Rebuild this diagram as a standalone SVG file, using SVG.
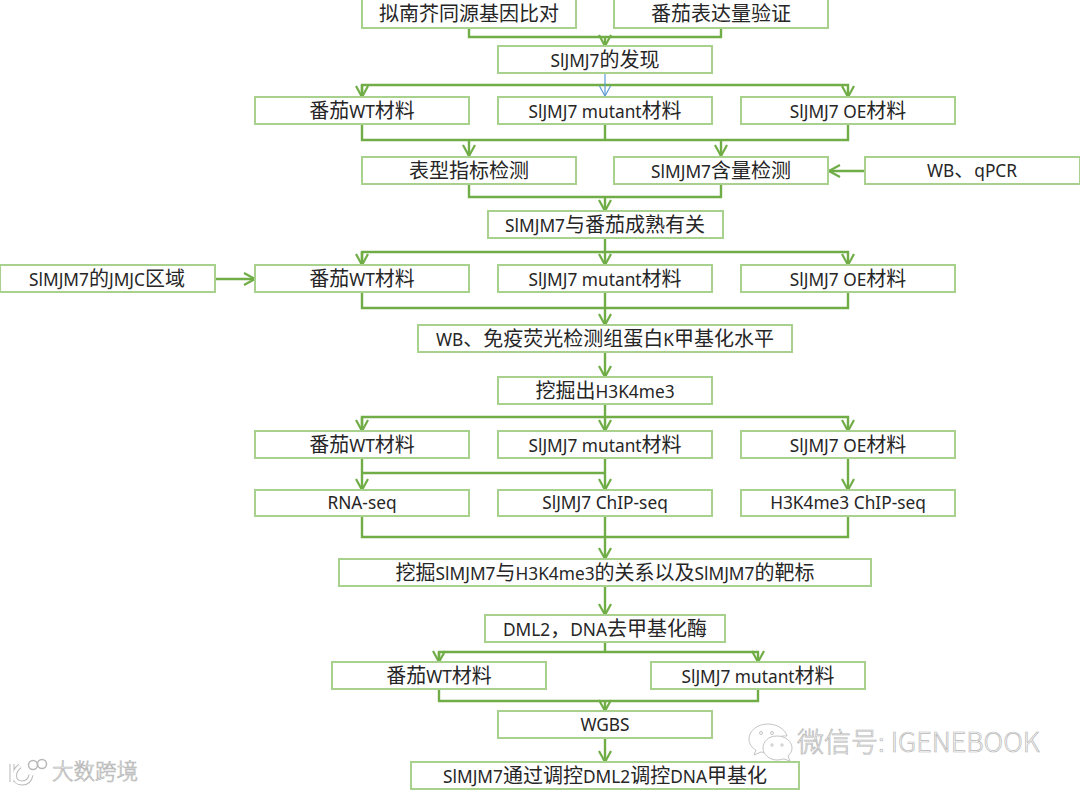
<svg xmlns="http://www.w3.org/2000/svg" width="1080" height="791" viewBox="0 0 1080 791">
<style>
.b{fill:#fff;stroke:#a9d18e;stroke-width:2}
.c{fill:none;stroke:#70ad47;stroke-width:2.4}
.t{font-family:"Noto Sans","Noto Sans CJK SC",sans-serif;font-size:17.300px;fill:#262626;text-anchor:middle}
.z{font-family:"Noto Sans CJK SC",sans-serif;font-size:20px}
.w{font-family:"Noto Sans CJK SC",sans-serif;font-weight:300;fill:#fff;stroke:#b5b5b5;stroke-width:.7}
.l{fill:#fff;stroke:#c4c4c4;stroke-width:1}
</style>
<defs>
<marker id="a" markerUnits="userSpaceOnUse" markerWidth="14" markerHeight="14" refX="12" refY="7" orient="auto"><path d="M1 1L12 7L1 13" fill="none" stroke="#70ad47" stroke-width="2.200"/></marker>
<marker id="e" markerUnits="userSpaceOnUse" markerWidth="14" markerHeight="14" refX="12" refY="7" orient="auto"><path d="M2 1.500L12 7L2 12.500" fill="none" stroke="#5b9bd5" stroke-width="1.200"/></marker>
</defs>
<rect width="1080" height="791" fill="#fff"/>
<g id="connectors">
<path class="c" d="M469 28V37H721V28M605 37V46" marker-end="url(#a)"/>
<path class="c" d="M362 97V85H848V97" marker-end="url(#a)"/>
<path class="c" d="M362 85V97" marker-end="url(#a)"/>
<path d="M605 73V96" fill="none" stroke="#5b9bd5" stroke-width="1.200" marker-end="url(#e)"/>
<path class="c" d="M362 124V140H848V124M605 124V140M469 140V156" marker-end="url(#a)"/>
<path class="c" d="M721 140V156" marker-end="url(#a)"/>
<path class="c" d="M865 171H829" marker-end="url(#a)"/>
<path class="c" d="M469 184V197H721V184M605 197V211" marker-end="url(#a)"/>
<path class="c" d="M605 238V265" marker-end="url(#a)"/>
<path class="c" d="M362 265V252H848V265" marker-end="url(#a)"/>
<path class="c" d="M362 252V265" marker-end="url(#a)"/>
<path class="c" d="M215 279H255" marker-end="url(#a)"/>
<path class="c" d="M362 292V308H848V292M605 292V325" marker-end="url(#a)"/>
<path class="c" d="M605 352V377" marker-end="url(#a)"/>
<path class="c" d="M605 404V431" marker-end="url(#a)"/>
<path class="c" d="M362 431V417H848V431" marker-end="url(#a)"/>
<path class="c" d="M362 417V431" marker-end="url(#a)"/>
<path class="c" d="M362 458V490" marker-end="url(#a)"/>
<path class="c" d="M362 473H605M605 458V490" marker-end="url(#a)"/>
<path class="c" d="M848 458V490" marker-end="url(#a)"/>
<path class="c" d="M362 516V537H848V516M605 516V559" marker-end="url(#a)"/>
<path class="c" d="M605 586V615" marker-end="url(#a)"/>
<path class="c" d="M439 662V652H758V662" marker-end="url(#a)"/>
<path class="c" d="M439 652V662" marker-end="url(#a)"/>
<path class="c" d="M605 642V652"/>
<path class="c" d="M439 689V701H758V689M605 701V711" marker-end="url(#a)"/>
<path class="c" d="M605 738V762" marker-end="url(#a)"/>
</g>
<g id="n1"><rect class="b" x="362" y="-1" width="214" height="29"/><text class="t" x="469" y="21"><tspan class="z">拟南芥同源基因比对</tspan></text></g>
<g id="n2"><rect class="b" x="614" y="-1" width="214" height="29"/><text class="t" x="721" y="21"><tspan class="z">番茄表达量验证</tspan></text></g>
<g id="n3"><rect class="b" x="498" y="46" width="214" height="27"/><text class="t" x="605" y="67">SlJMJ7<tspan class="z">的发现</tspan></text></g>
<g id="n4"><rect class="b" x="255" y="97" width="214" height="27"/><text class="t" x="362" y="118"><tspan class="z">番茄</tspan>WT<tspan class="z">材料</tspan></text></g>
<g id="n5"><rect class="b" x="498" y="97" width="214" height="27"/><text class="t" x="605" y="118">SlJMJ7 mutant<tspan class="z">材料</tspan></text></g>
<g id="n6"><rect class="b" x="741" y="97" width="214" height="27"/><text class="t" x="848" y="118">SlJMJ7 OE<tspan class="z">材料</tspan></text></g>
<g id="n7"><rect class="b" x="362" y="157" width="214" height="27"/><text class="t" x="469" y="178"><tspan class="z">表型指标检测</tspan></text></g>
<g id="n8"><rect class="b" x="614" y="157" width="214" height="27"/><text class="t" x="721" y="178">SlMJM7<tspan class="z">含量检测</tspan></text></g>
<g id="n9"><rect class="b" x="865" y="157" width="215" height="27"/><text class="t" x="972" y="177">WB<tspan class="z">、</tspan>qPCR</text></g>
<g id="n10"><rect class="b" x="488" y="211" width="235" height="27"/><text class="t" x="605" y="232">SlMJM7<tspan class="z">与番茄成熟有关</tspan></text></g>
<g id="n11"><rect class="b" x="0" y="265" width="215" height="27"/><text class="t" x="107" y="286">SlMJM7<tspan class="z">的</tspan>JMJC<tspan class="z">区域</tspan></text></g>
<g id="n12"><rect class="b" x="255" y="265" width="214" height="27"/><text class="t" x="362" y="286"><tspan class="z">番茄</tspan>WT<tspan class="z">材料</tspan></text></g>
<g id="n13"><rect class="b" x="498" y="265" width="214" height="27"/><text class="t" x="605" y="286">SlJMJ7 mutant<tspan class="z">材料</tspan></text></g>
<g id="n14"><rect class="b" x="741" y="265" width="214" height="27"/><text class="t" x="848" y="286">SlJMJ7 OE<tspan class="z">材料</tspan></text></g>
<g id="n15"><rect class="b" x="418" y="325" width="374" height="27"/><text class="t" x="605" y="346">WB<tspan class="z">、免疫荧光检测组蛋白</tspan>K<tspan class="z">甲基化水平</tspan></text></g>
<g id="n16"><rect class="b" x="498" y="377" width="214" height="27"/><text class="t" x="605" y="398"><tspan class="z">挖掘出</tspan>H3K4me3</text></g>
<g id="n17"><rect class="b" x="255" y="431" width="214" height="27"/><text class="t" x="362" y="452"><tspan class="z">番茄</tspan>WT<tspan class="z">材料</tspan></text></g>
<g id="n18"><rect class="b" x="498" y="431" width="214" height="27"/><text class="t" x="605" y="452">SlJMJ7 mutant<tspan class="z">材料</tspan></text></g>
<g id="n19"><rect class="b" x="741" y="431" width="214" height="27"/><text class="t" x="848" y="452">SlJMJ7 OE<tspan class="z">材料</tspan></text></g>
<g id="n20"><rect class="b" x="255" y="490" width="214" height="26"/><text class="t" x="362" y="509">RNA-seq</text></g>
<g id="n21"><rect class="b" x="498" y="490" width="214" height="26"/><text class="t" x="605" y="509">SlJMJ7 ChIP-seq</text></g>
<g id="n22"><rect class="b" x="741" y="490" width="214" height="26"/><text class="t" x="848" y="509">H3K4me3 ChIP-seq</text></g>
<g id="n23"><rect class="b" x="339" y="559" width="532" height="27"/><text class="t" x="605" y="580"><tspan class="z">挖掘</tspan>SlMJM7<tspan class="z">与</tspan>H3K4me3<tspan class="z">的关系以及</tspan>SlMJM7<tspan class="z">的靶标</tspan></text></g>
<g id="n24"><rect class="b" x="485" y="615" width="240" height="27"/><text class="t" x="605" y="636">DML2<tspan class="z">，</tspan>DNA<tspan class="z">去甲基化酶</tspan></text></g>
<g id="n25"><rect class="b" x="332" y="662" width="214" height="27"/><text class="t" x="439" y="683"><tspan class="z">番茄</tspan>WT<tspan class="z">材料</tspan></text></g>
<g id="n26"><rect class="b" x="651" y="662" width="214" height="27"/><text class="t" x="758" y="683">SlJMJ7 mutant<tspan class="z">材料</tspan></text></g>
<g id="n27"><rect class="b" x="498" y="711" width="214" height="27"/><text class="t" x="605" y="731">WGBS</text></g>
<g id="n28"><rect class="b" x="411" y="762" width="388" height="27"/><text class="t" x="605" y="783">SlMJM7<tspan class="z">通过调控</tspan>DML2<tspan class="z">调控</tspan>DNA<tspan class="z">甲基化</tspan></text></g>
<g id="wm1">
<path class="l" d="M768 724C757 724 749 731 749 739C749 744 752 748 756 750L754 755L761 752C766 753 769 753 771 753C767 745 773 735 787 736C785 729 777 724 768 724Z"/>
<path class="l" d="M777 736C768 736 763 742 763 748C763 754 769 760 777 760C780 760 782 759 784 759L790 761L788 756C791 753 792 751 792 748C792 742 786 736 777 736Z"/>
<circle class="l" cx="761" cy="733" r="1.500"/><circle class="l" cx="772" cy="733" r="1.500"/><circle class="l" cx="772" cy="745" r="1.200"/><circle class="l" cx="782" cy="745" r="1.200"/>
<text class="w" x="797" y="752" font-size="27">微信号: IGENEBOOK</text>
</g>
<g id="wm2">
<path d="M12 764V782M20 766C12 772 13 783 22 783C27 783 30 780 31 775" fill="none" stroke="#b8b8b8" stroke-width="5"/>
<path d="M12 764V782M20 766C12 772 13 783 22 783C27 783 30 780 31 775" fill="none" stroke="#fff" stroke-width="3"/>
<circle cx="33" cy="765" r="4.500" fill="none" stroke="#b8b8b8" stroke-width="1.500"/><circle cx="42" cy="764" r="4.500" fill="none" stroke="#b8b8b8" stroke-width="1.500"/>
<text class="w" x="52" y="779" font-size="21.500">大数跨境</text>
</g>
</svg>
